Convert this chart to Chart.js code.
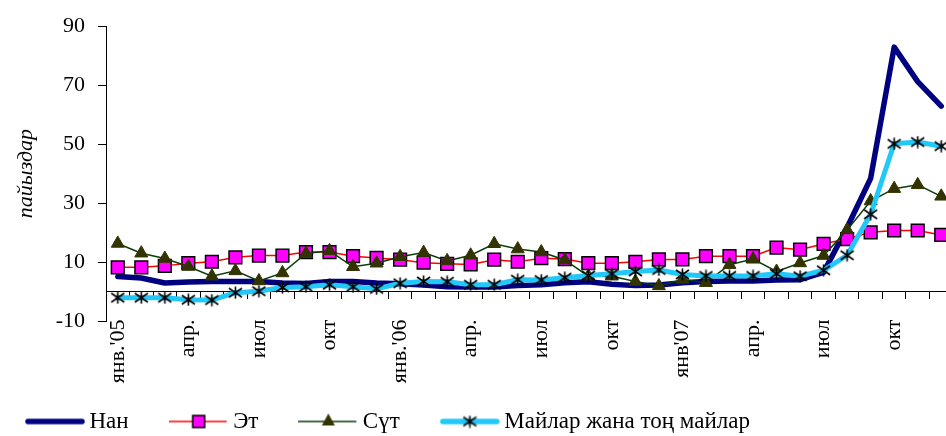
<!DOCTYPE html>
<html>
<head>
<meta charset="utf-8">
<script src="https://cdn.jsdelivr.net/npm/chart.js@4/dist/chart.umd.min.js"></script>
<style>
  html, body { margin: 0; padding: 0; width: 946px; height: 436px; overflow: hidden; background: #fff; }
  #wrap { position: absolute; left: -15px; top: 0; width: 968px; height: 443px; }
</style>
</head>
<body>
<div id="wrap"><canvas id="chart"></canvas></div>
<script>
// Month labels, Jan 2005 – Dec 2007 (only every third month is labelled)
const tickLabels = [
  "янв.'05", "", "", "апр.", "", "", "июл", "", "", "окт", "", "",
  "янв.'06", "", "", "апр.", "", "", "июл", "", "", "окт", "", "",
  "янв'07", "", "", "апр.", "", "", "июл", "", "", "окт", "", ""
];

const seriesNames = ["Нан", "Эт", "Сүт", "Майлар жана тоң майлар"];

// Year-on-year price change, %
const bread = [5.1, 4.6, 2.9, 3.2, 3.4, 3.4, 3.4, 2.9, 2.7, 3.4, 3.4, 2.9,
               2.6, 2.2, 1.6, 1.5, 1.5, 2.0, 2.3, 3.0, 3.3, 2.5, 2.0, 2.2,
               3.0, 3.4, 3.6, 3.6, 3.9, 4.0, 6.5, 21.7, 38.4, 82.9, 71.2, 62.9];
const meat  = [8.2, 8.2, 8.7, 9.6, 10.1, 11.6, 12.2, 12.2, 13.4, 13.4, 12.0, 11.4,
               10.8, 9.8, 9.4, 9.2, 10.8, 10.1, 11.3, 11.0, 9.6, 9.6, 10.1, 10.9,
               10.9, 12.0, 12.0, 12.0, 14.9, 14.2, 16.2, 17.8, 20.1, 20.7, 20.7, 19.2];
const milk  = [16.3, 13.0, 11.2, 8.5, 5.2, 7.0, 3.6, 6.3, 12.9, 13.8, 8.4, 9.6,
               11.8, 13.2, 10.4, 12.3, 16.2, 14.4, 13.4, 10.7, 5.2, 5.2, 3.4, 1.9,
               4.1, 3.0, 9.1, 11.0, 6.8, 9.7, 12.2, 20.9, 30.7, 34.9, 36.2, 32.3];
const fats  = [-2.1, -2.1, -2.1, -2.8, -2.9, -0.4, 0.1, 1.4, 1.6, 2.3, 1.6, 0.9,
               2.8, 3.4, 3.3, 2.3, 2.3, 4.0, 3.9, 4.7, 5.4, 6.0, 6.8, 7.3,
               5.8, 5.3, 5.3, 5.3, 6.0, 5.2, 7.2, 12.3, 26.2, 50.1, 50.7, 49.3];

const colors = {
  bread: "#000080",
  meatLine: "#ff0000", meatFill: "#ff00ff",
  milkLine: "#0a3d0a", milkFill: "#333300",
  fats: "#22c8f8"
};

// Six-armed asterisk marker
function asteriskMarker() {
  const c = document.createElement("canvas");
  c.width = 15; c.height = 13;
  const g = c.getContext("2d");
  g.strokeStyle = "#000"; g.lineWidth = 1.6;
  g.beginPath();
  g.moveTo(7.5, 0.5); g.lineTo(7.5, 12.5);
  g.moveTo(1, 2); g.lineTo(14, 11);
  g.moveTo(1, 11); g.lineTo(14, 2);
  g.stroke();
  return c;
}
const starImg = asteriskMarker();

// Legend sample: a 60px line with the series marker in its middle
function legendIcon(kind) {
  const c = document.createElement("canvas");
  c.width = 102; c.height = 22;
  const g = c.getContext("2d");
  const y = 11;
  g.lineCap = "round";
  if (kind === 0) {
    g.strokeStyle = colors.bread; g.lineWidth = 5.5;
    g.beginPath(); g.moveTo(3, y); g.lineTo(57, y); g.stroke();
  } else if (kind === 1) {
    g.lineCap = "butt";
    g.strokeStyle = colors.meatLine; g.lineWidth = 1.6;
    g.beginPath(); g.moveTo(0, y); g.lineTo(58, y); g.stroke();
    g.fillStyle = colors.meatFill; g.strokeStyle = "#000"; g.lineWidth = 1.5;
    g.fillRect(24, y - 6, 12, 12); g.strokeRect(24, y - 6, 12, 12);
  } else if (kind === 2) {
    g.lineCap = "butt";
    g.strokeStyle = colors.milkLine; g.lineWidth = 1.6;
    g.beginPath(); g.moveTo(0, y); g.lineTo(58, y); g.stroke();
    g.fillStyle = colors.milkFill;
    g.beginPath(); g.moveTo(30, y - 8); g.lineTo(36.5, y + 4); g.lineTo(23.5, y + 4); g.closePath(); g.fill();
  } else {
    g.strokeStyle = colors.fats; g.lineWidth = 5.5;
    g.beginPath(); g.moveTo(3, y); g.lineTo(57, y); g.stroke();
    g.drawImage(starImg, 30 - starImg.width / 2, y - starImg.height / 2);
  }
  return c;
}
const legendIcons = [0, 1, 2, 3].map(legendIcon);

Chart.defaults.font.family = "'Liberation Serif', 'Times New Roman', serif";
Chart.defaults.color = "#000";

new Chart(document.getElementById("chart"), {
  type: "line",
  data: {
    labels: tickLabels,
    datasets: [
      { label: seriesNames[0], data: bread, order: 4,
        borderColor: colors.bread, borderWidth: 5.5, pointRadius: 0,
        borderJoinStyle: "round", borderCapStyle: "round", tension: 0 },
      { label: seriesNames[1], data: meat, order: 3,
        borderColor: colors.meatLine, borderWidth: 1.5,
        pointStyle: "rect", pointRadius: 9,
        pointBackgroundColor: colors.meatFill, pointBorderColor: "#000", pointBorderWidth: 1.5, tension: 0 },
      { label: seriesNames[2], data: milk, order: 2,
        borderColor: colors.milkLine, borderWidth: 1.5,
        pointStyle: "triangle", pointRadius: 7.5,
        pointBackgroundColor: colors.milkFill, pointBorderColor: colors.milkFill, pointBorderWidth: 1, tension: 0 },
      { label: seriesNames[3], data: fats, order: 1,
        borderColor: colors.fats, borderWidth: 5,
        borderJoinStyle: "round", borderCapStyle: "round",
        pointStyle: starImg, pointRadius: 7, tension: 0 }
    ]
  },
  options: {
    responsive: true,
    maintainAspectRatio: false,
    animation: false,
    events: [],
    layout: { autoPadding: false, padding: { top: 22, left: 0, right: 0, bottom: 0 } },
    scales: {
      x: {
        position: { y: 0 },
        offset: true,
        grid: { display: true, drawOnChartArea: false, drawTicks: true, tickLength: 7, color: "#000", tickColor: "#000", offset: true },
        border: { display: true, color: "#000", width: 1 },
        ticks: { autoSkip: false, minRotation: 90, maxRotation: 90, padding: 21, color: "#000", font: { size: 22 } },
        afterFit: s => { s.paddingLeft = 0; s.paddingRight = 0; }
      },
      y: {
        min: -10, max: 90,
        ticks: { stepSize: 20, padding: 13, color: "#000", font: { size: 22 } },
        grid: { display: true, drawOnChartArea: false, drawTicks: true, tickLength: 8, color: "#000", tickColor: "#000" },
        border: { display: true, color: "#000", width: 1 },
        title: { display: true, text: "пайыздар", color: "#000",
                 font: { size: 22, style: "italic" }, padding: { top: 28, bottom: 0 } },
        afterFit: s => { s.width = 121; }
      }
    },
    plugins: {
      tooltip: { enabled: false },
      legend: {
        display: true,
        position: "bottom",
        align: "start",
        labels: {
          usePointStyle: true,
          pointStyleWidth: 4,
          padding: 89,
          color: "#000",
          font: { size: 23 },
          generateLabels: () => seriesNames.map((name, i) => ({
            text: name, pointStyle: legendIcons[i], fillStyle: "transparent",
            strokeStyle: "transparent", lineWidth: 0, hidden: false, datasetIndex: i, fontColor: "#000"
          }))
        }
      }
    }
  }
});
</script>
</body>
</html>
